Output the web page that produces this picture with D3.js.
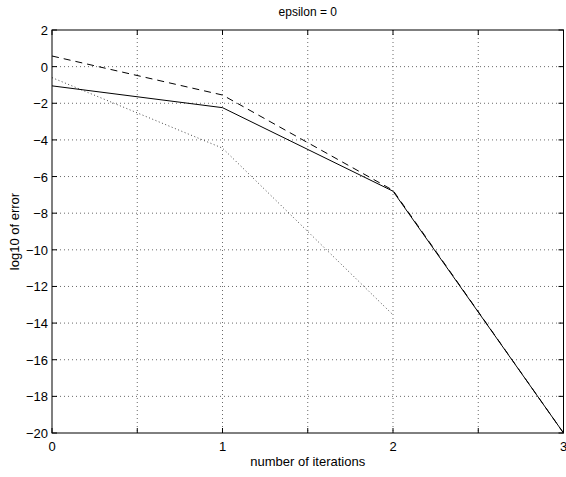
<!DOCTYPE html>
<html><head><meta charset="utf-8">
<script src="https://cdn.jsdelivr.net/npm/d3@7"></script>
<style>body{margin:0;background:#fff}svg{display:block}text{font-family:"Liberation Sans",Arial,sans-serif;fill:#000}</style>
</head><body>
<script>
const iterations = [0, 1, 2, 3];
const solidErr = [-1.05, -2.24, -6.8, -20];
const dashedErr = [0.58, -1.55, -6.75, -20];
const dottedIter = [0, 1, 2];
const dottedErr = [-0.6, -4.45, -13.55];
const xTicks = [0, 1, 2, 3];
const xGrid = [0.5, 1, 1.5, 2, 2.5];
const yTicks = [2, 0, -2, -4, -6, -8, -10, -12, -14, -16, -18, -20];
const title = "epsilon = 0";
const xLabel = "number of iterations";
const yLabel = "log10 of error";

const W = 566, H = 477;
const L = 52, R = 563.5, T = 30, B = 433;
const svg = d3.select("body").append("svg").attr("width", W).attr("height", H);
const x = d3.scaleLinear().domain([0, 3]).range([L, R]);
const y = d3.scaleLinear().domain([-20, 2]).range([B, T]);

// grid
const g = svg.append("g");
g.selectAll(".vg").data(xGrid).enter().append("line")
  .attr("x1", d => x(d)).attr("x2", d => x(d)).attr("y1", T).attr("y2", B)
  .attr("stroke", "#444").attr("stroke-width", 0.8).attr("stroke-dasharray", "1,3");
g.selectAll(".hg").data(yTicks.filter(d => d > -20 && d < 2)).enter().append("line")
  .attr("x1", L).attr("x2", R).attr("y1", d => y(d)).attr("y2", d => y(d))
  .attr("stroke", "#444").attr("stroke-width", 0.8).attr("stroke-dasharray", "1,3");

// lines
const line = d3.line().x(d => x(d[0])).y(d => y(d[1]));
svg.append("path").datum(dottedIter.map((d, i) => [d, dottedErr[i]]))
  .attr("d", line).attr("fill", "none").attr("stroke", "#333").attr("stroke-width", 0.9).attr("stroke-dasharray", "1,2.5");
svg.append("path").datum(iterations.map((d, i) => [d, dashedErr[i]]))
  .attr("d", line).attr("fill", "none").attr("stroke", "#000").attr("stroke-width", 1).attr("stroke-dasharray", "7,5");
svg.append("path").datum(iterations.map((d, i) => [d, solidErr[i]]))
  .attr("d", line).attr("fill", "none").attr("stroke", "#000").attr("stroke-width", 1);

// axes box
svg.append("rect").attr("x", L).attr("y", T).attr("width", R - L).attr("height", B - T)
  .attr("fill", "none").attr("stroke", "#000").attr("stroke-width", 1);

// ticks (inside, all sides)
const tl = 5;
const xt = [0, 0.5, 1, 1.5, 2, 2.5, 3];
xt.forEach(v => {
  svg.append("line").attr("x1", x(v)).attr("x2", x(v)).attr("y1", B).attr("y2", B - tl).attr("stroke", "#000");
  svg.append("line").attr("x1", x(v)).attr("x2", x(v)).attr("y1", T).attr("y2", T + tl).attr("stroke", "#000");
});
yTicks.forEach(v => {
  svg.append("line").attr("x1", L).attr("x2", L + tl).attr("y1", y(v)).attr("y2", y(v)).attr("stroke", "#000");
  svg.append("line").attr("x1", R).attr("x2", R - tl).attr("y1", y(v)).attr("y2", y(v)).attr("stroke", "#000");
});

// tick labels
svg.selectAll(".xl").data(xTicks).enter().append("text")
  .attr("x", d => x(d)).attr("y", B + 18).attr("text-anchor", "middle").attr("font-size", 13).text(d => d);
svg.selectAll(".yl").data(yTicks).enter().append("text")
  .attr("x", L - 4).attr("y", d => y(d) + 5).attr("text-anchor", "end").attr("font-size", 13)
  .text(d => d < 0 ? "\u2212" + Math.abs(d) : d);

// labels
svg.append("text").attr("x", (L + R) / 2).attr("y", 16).attr("text-anchor", "middle").attr("font-size", 12).text(title);
svg.append("text").attr("x", (L + R) / 2).attr("y", 466).attr("text-anchor", "middle").attr("font-size", 13).text(xLabel);
svg.append("text").attr("transform", `translate(19,${(T + B) / 2}) rotate(-90)`).attr("text-anchor", "middle").attr("font-size", 13).text(yLabel);
</script>
</body></html>
